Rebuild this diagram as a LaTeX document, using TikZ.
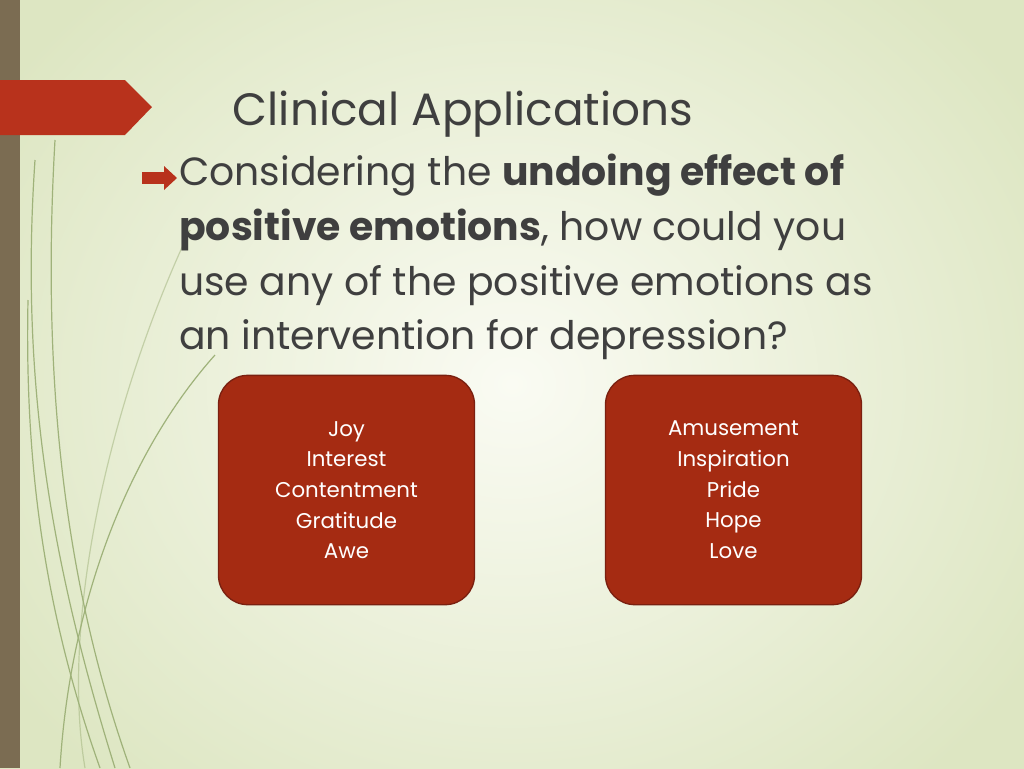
\documentclass[tikz,border=0pt]{standalone}
\usepackage{fontspec}
\setmainfont{Poppins}
\begin{document}
\begin{tikzpicture}[x=0.75pt,y=-0.75pt,
  box/.style={draw=boxedge,line width=1pt,fill=boxred,rounded corners=22pt,minimum width=192pt,minimum height=172pt,text=white,align=center,font=\fontsize{16}{23}\selectfont},
  curve/.style={line width=0.9pt,draw=curvecol}]
\definecolor{boxred}{HTML}{A52B12}
\definecolor{boxedge}{HTML}{7A2010}
\definecolor{bannerred}{HTML}{B8321C}
\definecolor{bar}{HTML}{7B6C52}
\definecolor{txt}{HTML}{3F3F3F}
\definecolor{bgin}{HTML}{FAFBF3}
\definecolor{bgout}{HTML}{DDE6C2}
\definecolor{curvecol}{HTML}{9FB27A}
\useasboundingbox (0,0) rectangle (1024,768);
\shade[inner color=bgin,outer color=bgout] (-100,-150) rectangle (1124,918);
\fill[bar] (0,0) rectangle (20,768);
% curves
\draw[curve] (130,768) .. controls (70,600) and (40,400) .. (55,140);
\draw[curve] (115,768) .. controls (50,560) and (20,380) .. (35,160);
\draw[curve] (100,768) .. controls (40,600) and (25,450) .. (28,300);
\draw[curve] (60,768) .. controls (70,600) and (130,450) .. (215,355);
\draw[curve,opacity=0.5] (85,768) .. controls (60,620) and (110,400) .. (190,230);
\fill[bannerred] (0,80) -- (125,80) -- (152,107) -- (125,135) -- (0,135) -- cycle;
\node[anchor=base west,text=txt,font=\fontsize{34}{40}\selectfont] (title) at (228,125) {Clinical Applications};
\fill[bannerred] (142,172) rectangle (164,184);
\fill[bannerred] (164,166) -- (177,178) -- (164,190) -- cycle;
\node[anchor=north west,text=txt,align=left,font=\fontsize{29.5}{41}\selectfont,inner sep=0pt] (body) at (179,154)
 {Considering the \textbf{undoing effect of}\\ \textbf{positive emotions}, how could you\\ use any of the positive emotions as\\ an intervention for depression?};
\node[box] (b1) at (346.5,490) {Joy\\Interest\\Contentment\\Gratitude\\Awe};
\node[box] (b2) at (733.5,490) {Amusement\\Inspiration\\Pride\\Hope\\Love};
\end{tikzpicture}
\end{document}
